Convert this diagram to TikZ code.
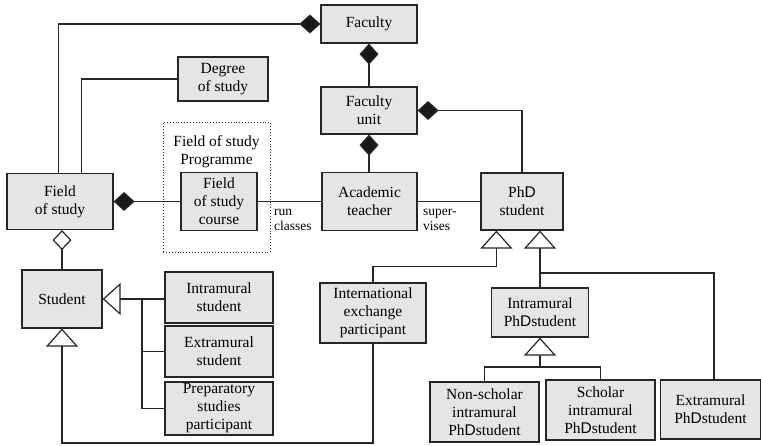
\documentclass[tikz,border=0pt]{standalone}
\usepackage{fontspec}
\setmainfont{Liberation Serif}
\newfontfamily\dfont{Liberation Sans}
\usetikzlibrary{arrows.meta}
\newcommand{\phdD}{Ph{\dfont D}}
\tikzset{
  box/.style={draw=black!85, line width=1.2pt, fill=gray!20, align=center,
    font=\fontsize{15.5}{18}\selectfont, inner sep=0pt, text=black},
  conn/.style={draw=black!85, line width=1.2pt},
  compo/.style={conn, -{Diamond[length=21pt,width=19pt,fill=black!90]}},
  aggr/.style={conn, -{Diamond[length=20pt,width=19pt,fill=white]}},
  gen/.style={conn, -{Triangle[length=18pt,width=32pt,fill=white]}},
  lbl/.style={font=\fontsize{13.5}{15}\selectfont, align=left, anchor=north west, inner sep=0pt, text=black},
  prog/.style={draw=black!80, dotted, line width=0.9pt},
}
\begin{document}
\begin{tikzpicture}[x=1pt,y=-1pt]
\useasboundingbox (0,0) rectangle (761,445);
% boxes
\node[box, minimum width=96, minimum height=38] (faculty) at (369,24) {Faculty};
\node[box, minimum width=96, minimum height=47] (unit) at (369,110.5) {Faculty\\unit};
\node[box, minimum width=90, minimum height=44] (degree) at (223,79) {Degree\\of study};
\node[prog, minimum width=107, minimum height=130] (progbox) at (216.5,187) {};
\node[font=\fontsize{15.5}{18}\selectfont, align=center, inner sep=0pt, text=black] (progl) at (216.5,152) {Field of study\\Programme};
\node[box, minimum width=106, minimum height=56] (fos) at (60,201.5) {Field\\of study};
\node[box, minimum width=76, minimum height=58] (course) at (219,201.5) {Field\\of study\\course};
\node[box, minimum width=95, minimum height=58] (teacher) at (369.5,201.5) {Academic\\teacher};
\node[box, minimum width=82, minimum height=57] (phd) at (522,201.5) {\phdD\\student};
\node[box, minimum width=80, minimum height=58] (student) at (62,299) {Student};
\node[box, minimum width=108, minimum height=51] (intra) at (219,297.5) {Intramural\\student};
\node[box, minimum width=108, minimum height=51] (extra) at (219,351.5) {Extramural\\student};
\node[box, minimum width=108, minimum height=53] (prep) at (219,408.5) {Preparatory\\studies\\participant};
\node[box, minimum width=106, minimum height=60] (intl) at (373,313) {International\\exchange\\participant};
\node[box, minimum width=97, minimum height=49] (iphd) at (540,312.5) {Intramural\\\phdD student};
\node[box, minimum width=109, minimum height=60] (nonsch) at (484.5,412) {Non-scholar\\intramural\\\phdD student};
\node[box, minimum width=109, minimum height=60] (sch) at (600.5,410) {Scholar\\intramural\\\phdD student};
\node[box, minimum width=100, minimum height=59] (ephd) at (710.5,409.5) {Extramural\\\phdD student};
% labels
\node[lbl] (runl) at (274,209) {run\\classes};
\node[lbl] (supl) at (423,209) {super-\\vises};
% coordinates
\coordinate (jst) at (142,299);
\coordinate (bot) at (0,443);
\coordinate (t1) at ([xshift=16pt]phd.south west);
\coordinate (j2) at (540,273);
\coordinate (j3) at (540,367);
% connectors
\draw[compo] ([xshift=52pt]fos.north west) |- (faculty.west);
\draw[conn] ([xshift=75pt]fos.north west) |- (degree.west);
\draw[compo] (unit.north) -- (faculty.south);
\draw[compo] (unit.south |- teacher.north) -- (unit.south);
\draw[compo] (phd.north) |- (unit.east);
\draw[compo] (course.west) -- (fos.east);
\draw[conn] (course.east) -- (teacher.west);
\draw[conn] (teacher.east) -- (phd.west);
\draw[aggr] (student.north) -- (student.north |- fos.south);
\draw[gen] (student.east -| intra.west) -- (student.east);
\draw[conn] (extra.west) -| (jst);
\draw[conn] (prep.west) -| (jst);
\draw[gen] (intl.south) -- (intl.south |- bot) -| (student.south);
\draw[gen] (intl.north) |- ([yshift=-36pt]t1) -- (t1);
\draw[gen] (iphd.north) -- (iphd.north |- phd.south);
\draw[conn] ([xshift=54pt]ephd.north west) |- (j2);
\draw[conn] (nonsch.north) |- (sch.north |- j3) -- (sch.north);
\draw[gen] (j3) -- (iphd.south);
\end{tikzpicture}
\end{document}
